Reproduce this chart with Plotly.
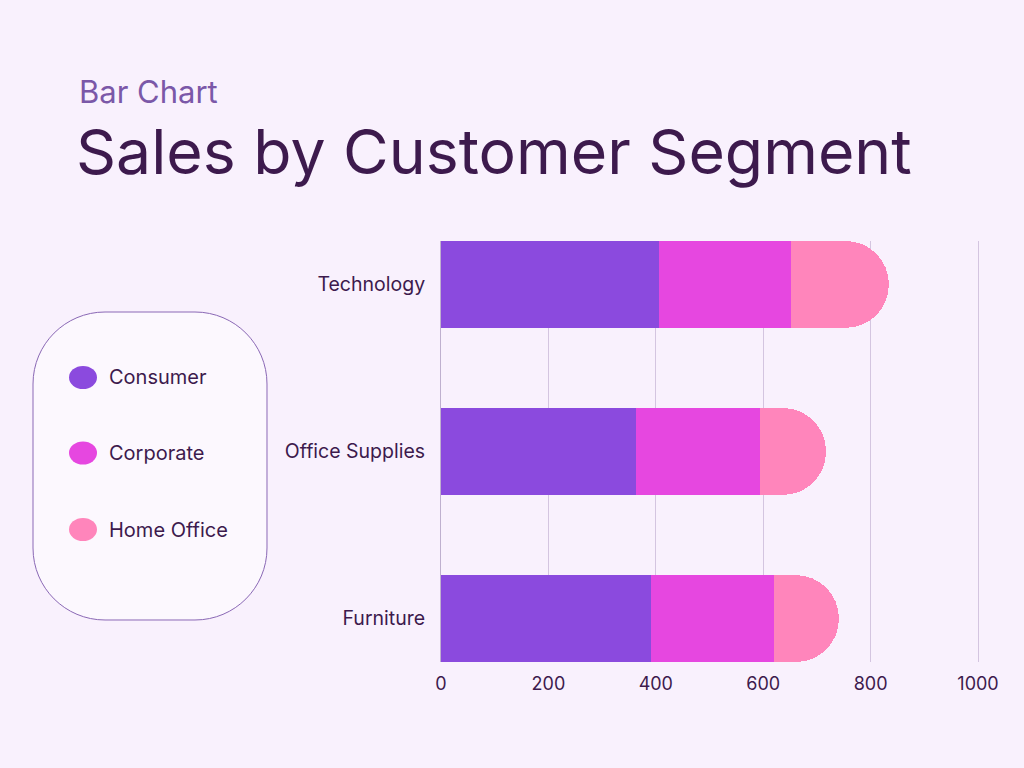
import plotly.graph_objects as go

categories = ["Furniture", "Office Supplies", "Technology"]
segments = ["Consumer", "Corporate", "Home Office"]
consumer = [391, 363, 406]
corporate = [229, 231, 246]
home_office = [121, 123, 182]
x_ticks = [0, 200, 400, 600, 800, 1000]

colors = ["#8b4ade", "#e647e0", "#ff85bb"]
series = [consumer, corporate, home_office]

W, H = 1024, 768
BG = "#f9f1fd"
DARK = "#3d1a4d"
FONT = "Inter"


def px(x):
    return x / W


def py(y):
    return 1 - y / H


fig = go.Figure()
for name, vals, col in zip(segments, series, colors):
    fig.add_trace(go.Bar(
        y=categories, x=vals, name=name, orientation="h",
        marker=dict(color=col, line=dict(width=0)),
        showlegend=False,
    ))

shapes = []
# rounded legend box
x0, x1, y0, y1, r = 33, 267, 312, 620, 72
k = 0.5523 * r
pts = [
    ("M", [(x0 + r, y0)]),
    ("L", [(x1 - r, y0)]),
    ("C", [(x1 - r + k, y0), (x1, y0 + r - k), (x1, y0 + r)]),
    ("L", [(x1, y1 - r)]),
    ("C", [(x1, y1 - r + k), (x1 - r + k, y1), (x1 - r, y1)]),
    ("L", [(x0 + r, y1)]),
    ("C", [(x0 + r - k, y1), (x0, y1 - r + k), (x0, y1 - r)]),
    ("L", [(x0, y0 + r)]),
    ("C", [(x0, y0 + r - k), (x0 + r - k, y0), (x0 + r, y0)]),
]
path = ""
for cmd, ps in pts:
    path += cmd + " " + " ".join(f"{px(a):.5f},{py(b):.5f}" for a, b in ps) + " "
path += "Z"
shapes.append(dict(type="path", xref="paper", yref="paper", path=path,
                   fillcolor="#fcf8fe", line=dict(color="#8a68b5", width=1), layer="below"))

annotations = []
leg_y = [377.5, 453, 529.5]
for name, col, cy in zip(segments, colors, leg_y):
    shapes.append(dict(type="circle", xref="paper", yref="paper",
                       x0=px(69), x1=px(97), y0=py(cy + 11.5), y1=py(cy - 11.5),
                       fillcolor=col, line=dict(width=0)))
    annotations.append(dict(text=name, xref="paper", yref="paper", x=px(107), y=py(cy),
                            xanchor="left", yanchor="middle", showarrow=False,
                            font=dict(family=FONT, size=20, color=DARK)))

annotations.append(dict(text="Bar Chart", xref="paper", yref="paper", x=px(77), y=py(92),
                        xanchor="left", yanchor="middle", showarrow=False,
                        font=dict(family=FONT, size=31, color="#7b58a8")))
annotations.append(dict(text="Sales by Customer Segment", xref="paper", yref="paper",
                        x=px(74), y=py(151), xanchor="left", yanchor="middle", showarrow=False,
                        font=dict(family=FONT, size=62.5, color=DARK)))

x_max = 1002
scale = (978 - 441) / 1000
fig.update_layout(
    width=W, height=H,
    margin=dict(l=0, r=0, t=0, b=0, autoexpand=False),
    paper_bgcolor=BG, plot_bgcolor=BG,
    barmode="stack", bargap=0.48, barcornerradius="50%",
    shapes=shapes, annotations=annotations,
    xaxis=dict(domain=[px(441), px(441 + x_max * scale)], range=[0, x_max], tickvals=x_ticks,
               showgrid=True, gridcolor="#d4c5e0", gridwidth=1, zeroline=False,
               showline=False, ticks="", ticklabelstandoff=9, automargin=False,
               tickfont=dict(family=FONT, size=18, color=DARK)),
    yaxis=dict(domain=[py(662), py(241)], range=[-0.26, 2.26],
               categoryorder="array", categoryarray=categories,
               showgrid=False, showline=True, linecolor="#bfb0cf", linewidth=1,
               ticks="", ticklabelstandoff=11, automargin=False,
               tickfont=dict(family=FONT, size=19.5, color=DARK)),
    font=dict(family=FONT, color=DARK),
)

fig.write_html("out.html")
